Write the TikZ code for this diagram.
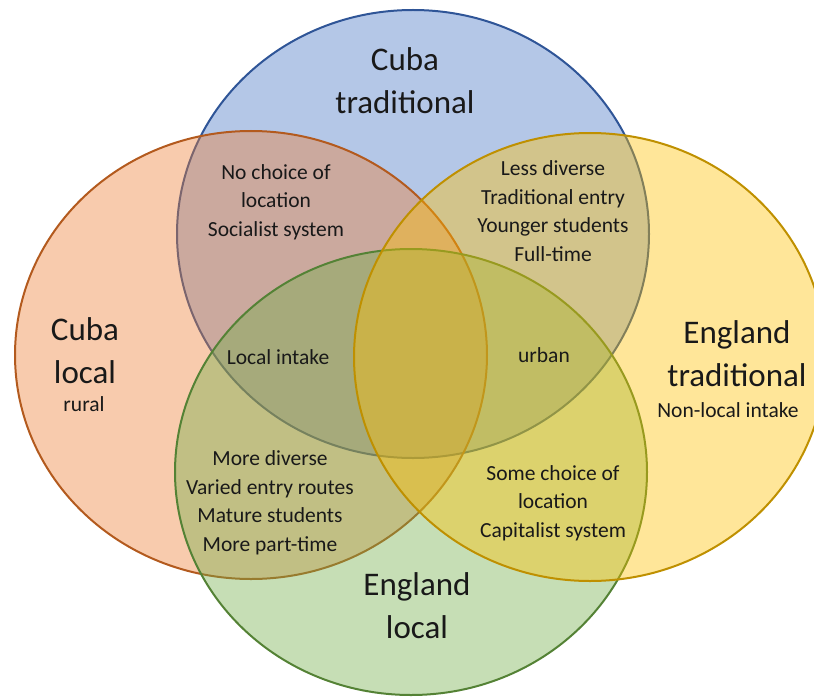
\documentclass[tikz,border=0pt]{standalone}
\usepackage{fontspec}
\setmainfont{Carlito}
\usepackage{tikz}
\usetikzlibrary{positioning}

\definecolor{cubatrad}{HTML}{4472C4}
\definecolor{cubatradline}{HTML}{2F5597}
\definecolor{cubaloc}{HTML}{ED7D31}
\definecolor{cubalocline}{HTML}{B35A1E}
\definecolor{engtrad}{HTML}{FFC000}
\definecolor{engtradline}{HTML}{BF9000}
\definecolor{engloc}{HTML}{70AD47}
\definecolor{englocline}{HTML}{548235}

\begin{document}
\begin{tikzpicture}[x=1pt,y=-1pt,
                set/.style={line width=2pt,fill opacity=0.4},
                title/.style={font=\fontsize{33}{43}\selectfont,align=center,text=black!90},
                item/.style={font=\fontsize{21.5}{28.5}\selectfont,align=center,text=black!90}
            ]
                \useasboundingbox (0,0) rectangle (814,698);
% the four sets, back to front
                \filldraw[set,draw=cubatradline,fill=cubatrad] (413,234) ellipse [x radius=236pt,y radius=224pt];
                \filldraw[set,draw=cubalocline,fill=cubaloc] (251,355) ellipse [x radius=236pt,y radius=224pt];
                \filldraw[set,draw=englocline,fill=engloc] (411,472) ellipse [x radius=236pt,y radius=223pt];
                \filldraw[set,draw=engtradline,fill=engtrad] (590,357) ellipse [x radius=236pt,y radius=224pt];

% set names
                \node[title] (cubatradname) at (405,81) {Cuba\\traditional};
                \node[title] (cubalocname) at (85,351) {Cuba\\local};
                \node[item] (rural) at (84,404) {rural};
                \node[title] (engtradname) at (737,354) {England\\traditional};
                \node[item] (nonlocal) at (728,410) {Non-local intake};
                \node[title] (englocname) at (417,606) {England\\local};

% overlaps
                \node[item] (nochoice) at (276,202) {No choice of\\location\\Socialist system};
                \node[item] (lessdiverse) at (553,211) {Less diverse\\Traditional entry\\Younger students\\Full-time};
                \node[item] (localintake) at (278,357) {Local intake};
                \node[item] (urban) at (544,355) {urban};
                \node[item] (morediverse) at (270,503) {More diverse\\Varied entry routes\\Mature students\\More part-time};
                \node[item] (somechoice) at (553,503) {Some choice of\\location\\Capitalist system};

\end{tikzpicture}
\end{document}
